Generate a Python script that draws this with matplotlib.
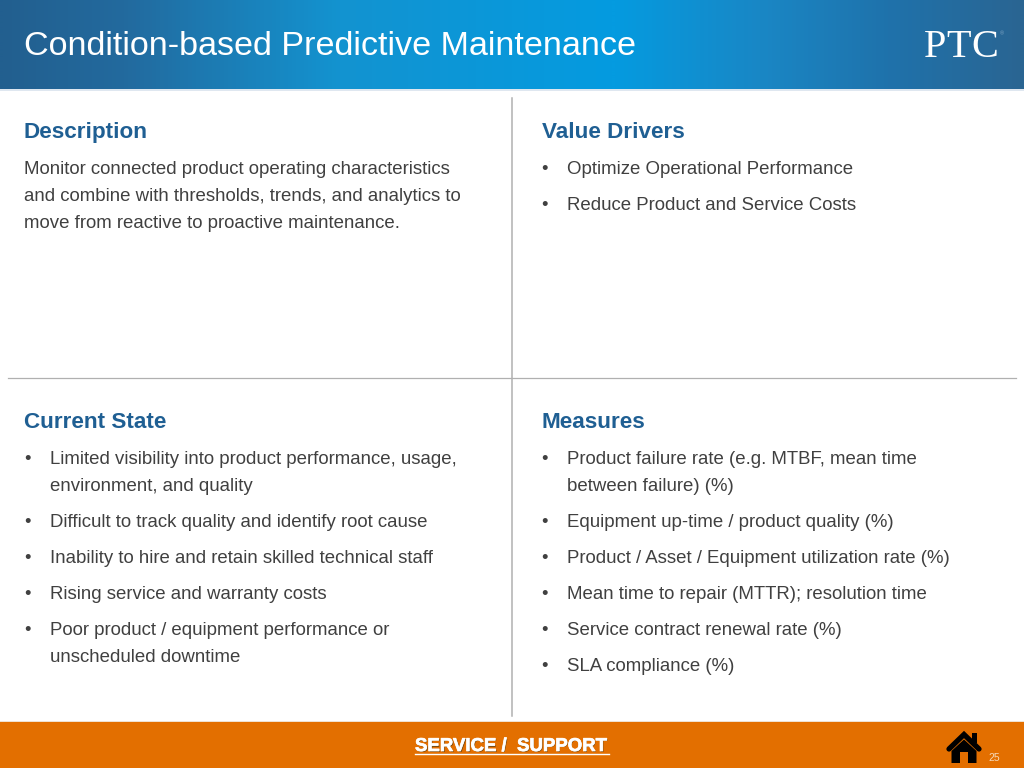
import numpy as np
import matplotlib
matplotlib.use("Agg")
import matplotlib.pyplot as plt
import matplotlib.patheffects as pe
from matplotlib.colors import LinearSegmentedColormap
from matplotlib.patches import Polygon, Rectangle

TITLE = "Condition-based Predictive Maintenance"
HEAD_DESC = "Description"
HEAD_VALUE = "Value Drivers"
HEAD_STATE = "Current State"
HEAD_MEAS = "Measures"
DESC_LINES = ["Monitor connected product operating characteristics",
              "and combine with thresholds, trends, and analytics to",
              "move from reactive to proactive maintenance."]
VALUE_ITEMS = [["Optimize Operational Performance"], ["Reduce Product and Service Costs"]]
STATE_ITEMS = [["Limited visibility into product performance, usage,", "environment, and quality"],
               ["Difficult to track quality and identify root cause"],
               ["Inability to hire and retain skilled technical staff"],
               ["Rising service and warranty costs"],
               ["Poor product / equipment performance or", "unscheduled downtime"]]
MEAS_ITEMS = [["Product failure rate (e.g. MTBF, mean time", "between failure) (%)"],
              ["Equipment up-time / product quality (%)"],
              ["Product / Asset / Equipment utilization rate (%)"],
              ["Mean time to repair (MTTR); resolution time"],
              ["Service contract renewal rate (%)"],
              ["SLA compliance (%)"]]
FOOTER = "SERVICE /  SUPPORT"
PAGE = "25"

BLUE = "#1f5f93"
BODY = "#404040"
FONT = "Liberation Sans"
BODY_PT = 13.4

fig = plt.figure(figsize=(10.24, 7.68), dpi=100, facecolor="white")
ax = fig.add_axes([0, 0, 1, 1])
ax.set_xlim(0, 1024); ax.set_ylim(768, 0); ax.axis("off")

# header gradient
cmap = LinearSegmentedColormap.from_list("h", [(0, "#225f8f"), (0.12, "#236a9e"), (0.33, "#1393d0"),
                                               (0.6, "#049be0"), (0.75, "#1a86c4"), (0.87, "#1f72ab"),
                                               (1, "#2a6592")])
ax.imshow(np.linspace(0, 1, 1024)[None, :], extent=(0, 1024, 89, 0), cmap=cmap, aspect="auto",
          interpolation="bilinear", zorder=1)
ax.set_xlim(0, 1024); ax.set_ylim(768, 0)
ax.add_patch(Rectangle((0, 89), 1024, 2, fc="#dfe7f0", ec="none", zorder=2))
ax.text(24, 55, TITLE, color="white", fontsize=24.6, family=FONT, va="baseline", ha="left", zorder=3)

# PTC logo
for x, ch in [(924, "P"), (946, "T"), (971, "C")]:
    ax.text(x, 57, ch, color="white", fontsize=29, family="Liberation Serif", va="baseline", ha="left", zorder=3)
ax.text(1000, 34, "®", color="#7fa6c4", fontsize=4, family=FONT, va="center", ha="left", zorder=3)

# footer
ax.add_patch(Rectangle((0, 722), 1024, 46, fc="#e36f00", ec="none", zorder=1))
ax.add_patch(Rectangle((0, 721), 1024, 1, fc="#f0e2d0", ec="none", zorder=1))
ax.text(415.8, 751.8, FOOTER, color="#7a4a10", fontsize=13.4, family=FONT, weight="bold", va="baseline", ha="left", zorder=3)
ax.text(415, 751, FOOTER, color="white", fontsize=13.4, family=FONT, weight="bold", va="baseline", ha="left", zorder=4,
        path_effects=[pe.withStroke(linewidth=0.5, foreground="white")])
ax.plot([415, 609], [753.5, 753.5], color="white", lw=1, zorder=4)
ax.text(994, 758, PAGE, color="#f6d9b8", fontsize=7.5, family=FONT, va="center", ha="center", zorder=3)

# house icon
ax.plot([949, 964, 979], [749, 734.5, 749], color="black", lw=3.8, solid_capstyle="round",
        solid_joinstyle="miter", zorder=3)
ax.add_patch(Polygon([(951.5, 751), (964, 739.5), (976.5, 751), (976.5, 763), (968, 763), (968, 752), (960, 752),
                      (960, 763), (951.5, 763)], closed=True, fc="black", ec="none", zorder=3))
ax.add_patch(Rectangle((972, 733), 5, 10, fc="black", ec="none", zorder=3))

# dividers
ax.plot([512, 512], [98, 716], color="#b0b0b0", lw=1.1, zorder=1)
ax.plot([8, 1016], [377.5, 377.5], color="#b0b0b0", lw=0.9, zorder=1)

def body(x, y, s):
    ax.text(x, y, s, color=BODY, fontsize=BODY_PT, family=FONT, va="baseline", ha="left", zorder=3)

def head(x, y, s):
    ax.text(x, y, s, color=BLUE, fontsize=16.2, family=FONT, weight="bold", va="baseline", ha="left", zorder=3)

def bullets(x, y, items):
    for item in items:
        body(x, y, "•")
        for i, line in enumerate(item):
            body(x + 25.5, y + 27.2 * i, line)
        y += 27.2 * (len(item) - 1) + 36

head(23.5, 138, HEAD_DESC)
for i, line in enumerate(DESC_LINES):
    body(24, 173.5 + 27.2 * i, line)
head(541.5, 138, HEAD_VALUE)
bullets(541.5, 173.5, VALUE_ITEMS)
head(24, 428, HEAD_STATE)
bullets(24, 463.5, STATE_ITEMS)
head(541.5, 428, HEAD_MEAS)
bullets(541.5, 463.5, MEAS_ITEMS)

fig.savefig("out.png", dpi=100)
